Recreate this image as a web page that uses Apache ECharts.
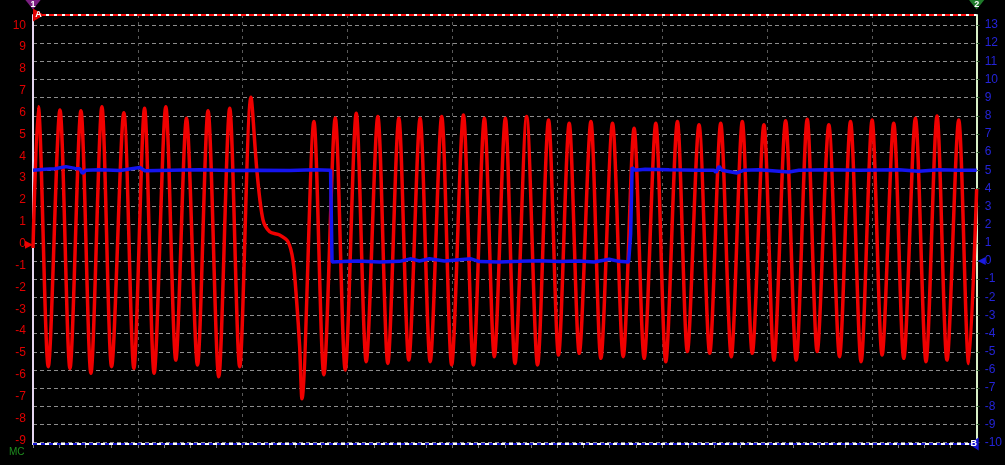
<!DOCTYPE html>
<html><head><meta charset="utf-8">
<script src="https://cdn.jsdelivr.net/npm/echarts@6/dist/echarts.min.js"></script>
<style>html,body{margin:0;padding:0;background:#000;}#c{width:1005px;height:465px;}</style>
</head><body><div id="c"></div>
<script>
// Channel A (red, left axis): time (0..900 = 9 divisions) and volts at each peak / trough
const timeA = [0, 5.05, 14.57, 25.71, 35.24, 45.71, 55.24, 65.71, 74.95, 86.67, 96.19, 106.38, 115.52,
  126.67, 136.19, 146.38, 156.86, 166.95, 177.14, 187.62, 197.14, 207.9, 213.8, 219.3, 225.7, 235.2,
  243.1, 247.9, 251.4, 254.3, 256.5, 267.9, 277.4, 288.3, 297.8, 308.3, 317.8, 328.9, 338.4, 348.9,
  358.4, 369.2, 378.8, 389.8, 399.3, 410.5, 420.0, 430.5, 440.0, 450.5, 459.7, 470.8, 481.2, 491.7,
  501.2, 511.4, 521.0, 532.1, 541.6, 552.7, 562.9, 573.3, 582.9, 594.0, 603.5, 614.6, 624.1, 635.2,
  645.4, 655.9, 666.0, 676.5, 686.0, 697.1, 706.7, 717.8, 727.9, 738.4, 747.9, 759.0, 769.2, 779.7,
  789.8, 800.3, 809.8, 820.9, 830.5, 841.6, 851.7, 862.2, 871.7, 882.9, 892.4, 900];
const voltsA = [-0.2, 6.27, -5.63, 6.12, -5.71, 6.09, -5.93, 6.27, -5.63, 6.0, -5.71, 6.2, -5.93,
  6.27, -5.33, 5.74, -5.55, 6.09, -6.09, 6.2, -5.63, 6.7, 3.2, 1.1, 0.55, 0.4,
  0.1, -0.75, -2.6, -4.7, -7.1, 5.59, -6.0, 5.76, -5.78, 5.97, -5.40, 5.82, -5.48, 5.74,
  -5.33, 5.74, -5.40, 5.82, -5.55, 5.89, -5.55, 5.74, -5.17, 5.74, -5.48, 5.82, -5.55, 5.66,
  -5.10, 5.51, -5.02, 5.59, -5.25, 5.51, -5.17, 5.28, -5.25, 5.51, -5.40, 5.59, -4.94, 5.44,
  -5.02, 5.51, -5.17, 5.59, -5.02, 5.44, -5.33, 5.63, -5.33, 5.70, -4.94, 5.44, -5.17, 5.59,
  -5.40, 5.66, -5.10, 5.51, -5.25, 5.74, -5.40, 5.85, -5.33, 5.66, -5.48, 2.5];

// Channel B (blue, right axis)
const timeB = [0, 11.4, 21.0, 31.4, 40.0, 44.8, 47.1, 50.5, 63.8, 82.9, 101.9, 106.7, 130.5, 159.0,
  187.6, 216.2, 244.8, 268.6, 283.8, 285.2, 295.2, 309.5, 330.5, 349.5, 360.7, 368.6, 378.1, 392.4,
  417.8, 425.7, 444.8, 463.8, 482.9, 501.9, 521.0, 535.2, 549.5, 559.0, 568.1, 570.0, 571.4, 574.3,
  583.8, 606.7, 635.2, 649.5, 651.4, 654.3, 657.1, 671.4, 678.1, 692.4, 720.9, 730.5, 759.0, 787.6,
  825.7, 844.8, 863.8, 882.9, 900];
const voltsB = [5.0, 5.05, 5.08, 5.2, 5.1, 5.08, 4.82, 5.0, 5.02, 4.98, 5.15, 4.97, 5.0, 5.02,
  4.99, 5.0, 4.98, 5.02, 5.0, -0.05, -0.03, 0.0, -0.05, -0.02, 0.12, 0.0, 0.12, 0.0,
  0.12, -0.03, -0.05, -0.02, 0.02, -0.03, 0.0, -0.05, 0.1, -0.02, -0.05, 1.5, 5.15, 5.0,
  5.05, 5.02, 5.0, 5.0, 4.88, 5.21, 5.0, 4.85, 5.0, 5.02, 4.9, 5.0, 5.02, 5.0,
  5.02, 4.95, 5.02, 5.0, 5.0];

const leftRange = [-9.17, 10.47];
const rightRange = [-10.08, 13.55];
const timeRange = [0, 900];
const timeStep = 100;

const pairsA = timeA.map((t, i) => [t, voltsA[i]]);
const pairsB = timeB.map((t, i) => [t, voltsB[i]]);

const intOnly = v => Math.abs(v - Math.round(v)) < 1e-6 ? String(Math.round(v)) : '';
const FONT = 'Liberation Sans';
const RIGHT = 'path://M0,0L10,5L0,10Z';
const LEFT = 'path://M10,0L0,5L10,10Z';
const DOWN = 'path://M0,0L10,0L5,8Z';
const mkLabel = t => ({show: true, formatter: t, color: '#fff', fontSize: 9, fontWeight: 'bold', fontFamily: FONT, position: 'inside'});

const chart = echarts.init(document.getElementById('c'), null, {renderer: 'canvas'});
chart.setOption({
  backgroundColor: '#000',
  animation: false,
  title: {text: 'MC', left: 4, bottom: 3, textStyle: {color: '#1f8f1f', fontSize: 10, fontWeight: 'normal', fontFamily: FONT}},
  grid: {left: 33, right: 27, top: 15, bottom: 21, containLabel: false},
  xAxis: {
    type: 'value', min: timeRange[0], max: timeRange[1], interval: timeStep,
    axisLine: {show: true, onZero: false, lineStyle: {color: '#ffffff', width: 2}},
    axisTick: {show: true, length: 4, lineStyle: {color: '#777'}},
    minorTick: {show: true, splitNumber: 4, length: 4, lineStyle: {color: '#777'}},
    axisLabel: {show: false},
    splitLine: {show: true, lineStyle: {color: '#5a5a5a', type: [3, 4], width: 1}}
  },
  yAxis: [
    {
      type: 'value', position: 'left', min: leftRange[0], max: leftRange[1], splitNumber: 20,
      axisLine: {show: true, onZero: false, lineStyle: {color: '#e6d6f0', width: 2}},
      axisTick: {show: false},
      axisLabel: {color: '#e00000', fontSize: 12, fontFamily: FONT, margin: 7, formatter: intOnly, showMinLabel: false, showMaxLabel: false},
      splitLine: {show: false}
    },
    {
      type: 'value', position: 'right', min: rightRange[0], max: rightRange[1], splitNumber: 24,
      axisLine: {show: true, onZero: false, lineStyle: {color: '#d8f0c8', width: 2}},
      axisTick: {show: true, length: 3, lineStyle: {color: '#2f5a2f'}},
      axisLabel: {color: '#2424d8', fontSize: 12, fontFamily: FONT, margin: 8, formatter: intOnly, showMinLabel: false, showMaxLabel: false},
      splitLine: {show: true, lineStyle: {color: '#8c8c8c', type: [4, 3], width: 1}}
    }
  ],
  series: [
    {
      type: 'line', yAxisIndex: 0, data: pairsA, smooth: 0.3, showSymbol: false,
      lineStyle: {color: '#f00000', width: 3.5}, itemStyle: {color: '#f00000'}, z: 3,
      markLine: {
        silent: true, symbol: 'none', label: {show: false}, animation: false,
        data: [
          {yAxis: leftRange[1], lineStyle: {color: '#ffffff', width: 2, type: 'solid'}},
          {yAxis: leftRange[1], lineStyle: {color: '#ff1010', width: 2, type: [5, 3]}}
        ]
      },
      markPoint: {
        silent: true, animation: false,
        data: [
          {coord: [timeRange[0], leftRange[1]], symbol: RIGHT, symbolSize: [11, 13], symbolOffset: [5.5, 0], itemStyle: {color: '#e00000'}, label: mkLabel('A')},
          {coord: [timeRange[0], 0], symbol: RIGHT, symbolSize: [8, 8], symbolOffset: [-4, 1], itemStyle: {color: '#f00000'}, label: {show: false}},
          {coord: [timeRange[0], leftRange[1]], symbol: DOWN, symbolSize: [16, 10], symbolOffset: [0, -10.5], itemStyle: {color: '#7a1f80'}, label: mkLabel('1')}
        ]
      }
    },
    {
      type: 'line', yAxisIndex: 1, data: pairsB, smooth: false, showSymbol: false,
      lineStyle: {color: '#1414f0', width: 3.5}, itemStyle: {color: '#1414f0'}, z: 4,
      markLine: {
        silent: true, symbol: 'none', label: {show: false}, animation: false,
        data: [
          {yAxis: rightRange[0], lineStyle: {color: '#ffffff', width: 2, type: 'solid'}},
          {yAxis: rightRange[0], lineStyle: {color: '#1414d0', width: 2, type: [4, 4]}}
        ]
      },
      markPoint: {
        silent: true, animation: false,
        data: [
          {coord: [timeRange[1], rightRange[0]], symbol: LEFT, symbolSize: [10, 13], symbolOffset: [-3, 0], itemStyle: {color: '#1414d0'}, label: mkLabel('B')},
          {coord: [timeRange[1], 0], symbol: LEFT, symbolSize: [8, 8], symbolOffset: [5, 0], itemStyle: {color: '#1a1ae0'}, label: {show: false}},
          {coord: [timeRange[1], rightRange[1]], symbol: DOWN, symbolSize: [16, 10], symbolOffset: [0, -10.5], itemStyle: {color: '#1f7a2a'}, label: mkLabel('2')}
        ]
      }
    }
  ]
});
</script>
</body></html>
